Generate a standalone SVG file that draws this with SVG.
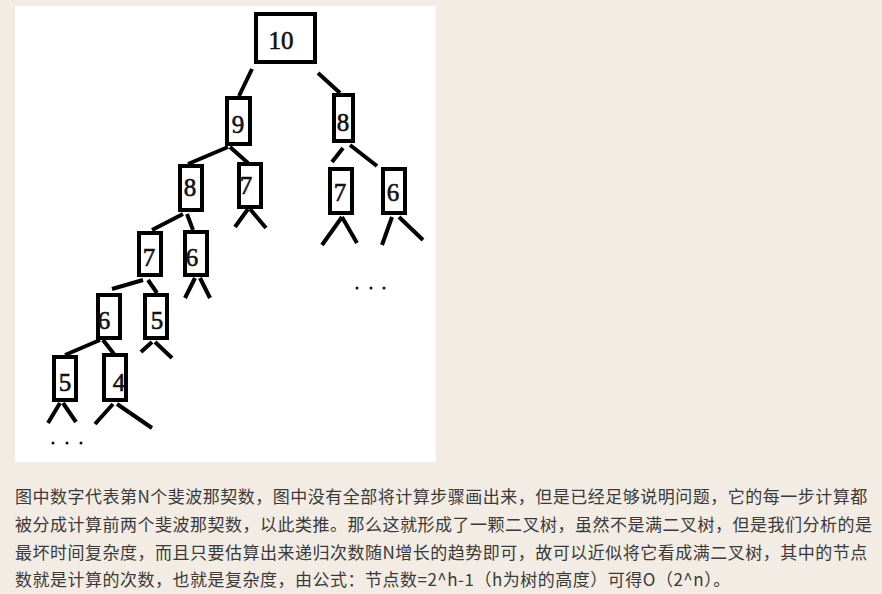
<svg xmlns="http://www.w3.org/2000/svg" width="882" height="594" viewBox="0 0 882 594">
<style>
.box{fill:#fff;stroke:#000;stroke-width:4}
.num{font-family:"Liberation Serif","DejaVu Serif",serif;font-size:25px;fill:#111;stroke:#111;stroke-width:0.6;text-anchor:middle}
.edge{stroke:#000;stroke-width:4;fill:none;stroke-linecap:butt}
.dot{fill:#111}
.para{font-family:"Noto Sans CJK SC","Noto Sans",sans-serif;font-size:17px;fill:#3a3a3a;letter-spacing:0.5px}
</style>
<rect width="882" height="594" fill="#f3ece4"/>
<rect x="15" y="6" width="421" height="456" fill="#fff"/>

<g id="connectors">
<line class="edge" x1="252" y1="69" x2="239" y2="96"/>
<line class="edge" x1="318" y1="73" x2="340" y2="93"/>
<line class="edge" x1="228" y1="147" x2="188" y2="164"/>
<line class="edge" x1="230" y1="147" x2="248" y2="163"/>
<line class="edge" x1="343" y1="148" x2="332" y2="162"/>
<line class="edge" x1="350" y1="145" x2="377" y2="166"/>
<line class="edge" x1="248" y1="209" x2="235" y2="227"/>
<line class="edge" x1="250" y1="209" x2="266" y2="228"/>
<line class="edge" x1="342" y1="217" x2="322" y2="245"/>
<line class="edge" x1="342" y1="217" x2="357" y2="243"/>
<line class="edge" x1="392" y1="217" x2="382" y2="245"/>
<line class="edge" x1="399" y1="217" x2="423" y2="240"/>
<line class="edge" x1="183" y1="214" x2="152" y2="230"/>
<line class="edge" x1="187" y1="214" x2="193" y2="230"/>
<line class="edge" x1="195" y1="278" x2="185" y2="298"/>
<line class="edge" x1="200" y1="278" x2="210" y2="298"/>
<line class="edge" x1="143" y1="280" x2="112" y2="289"/>
<line class="edge" x1="148" y1="280" x2="157" y2="293"/>
<line class="edge" x1="152" y1="342" x2="141" y2="352"/>
<line class="edge" x1="155" y1="342" x2="172" y2="358"/>
<line class="edge" x1="100" y1="340" x2="65" y2="355"/>
<line class="edge" x1="103" y1="340" x2="114" y2="354"/>
<line class="edge" x1="60" y1="403" x2="48" y2="423"/>
<line class="edge" x1="63" y1="403" x2="76" y2="422"/>
<line class="edge" x1="113" y1="404" x2="95" y2="424"/>
<line class="edge" x1="117" y1="404" x2="152" y2="428"/>
</g>

<g id="n10"><rect class="box" x="256" y="14" width="59" height="48"/><text class="num" x="281" y="49">10</text></g>
<g id="n9"><rect class="box" x="227" y="98" width="23" height="46"/><text class="num" x="238" y="133">9</text></g>
<g id="n8r"><rect class="box" x="334" y="95" width="19" height="46"/><text class="num" x="343" y="131">8</text></g>
<g id="n8l"><rect class="box" x="180" y="166" width="22" height="44"/><text class="num" x="190" y="196">8</text></g>
<g id="n7m"><rect class="box" x="239" y="164" width="22" height="43"/><text class="num" x="246" y="194">7</text></g>
<g id="n7r"><rect class="box" x="330" y="169" width="22" height="44"/><text class="num" x="340" y="201">7</text></g>
<g id="n6r"><rect class="box" x="383" y="169" width="22" height="44"/><text class="num" x="393" y="201">6</text></g>
<g id="n7l"><rect class="box" x="139" y="233" width="22" height="42"/><text class="num" x="149" y="266">7</text></g>
<g id="n6m"><rect class="box" x="185" y="232" width="22" height="43"/><text class="num" x="192" y="266">6</text></g>
<g id="n6l"><rect class="box" x="98" y="295" width="22" height="43"/><text class="num" x="104" y="329">6</text></g>
<g id="n5m"><rect class="box" x="145" y="295" width="22" height="43"/><text class="num" x="157" y="329">5</text></g>
<g id="n5l"><rect class="box" x="54" y="357" width="22" height="43"/><text class="num" x="65" y="391">5</text></g>
<g id="n4"><rect class="box" x="104" y="355" width="22" height="45"/><text class="num" x="119" y="391">4</text></g>

<g id="ellipsis-left"><circle class="dot" cx="53" cy="443" r="1.5"/><circle class="dot" cx="67" cy="443" r="1.5"/><circle class="dot" cx="81" cy="443" r="1.5"/></g>
<g id="ellipsis-right"><circle class="dot" cx="357" cy="288" r="1.5"/><circle class="dot" cx="371" cy="288" r="1.5"/><circle class="dot" cx="384" cy="288" r="1.5"/></g>

<g id="caption">
<text class="para" x="15" y="503">图中数字代表第N个斐波那契数，图中没有全部将计算步骤画出来，但是已经足够说明问题，它的每一步计算都</text>
<text class="para" x="15" y="531">被分成计算前两个斐波那契数，以此类推。那么这就形成了一颗二叉树，虽然不是满二叉树，但是我们分析的是</text>
<text class="para" x="15" y="559">最坏时间复杂度，而且只要估算出来递归次数随N增长的趋势即可，故可以近似将它看成满二叉树，其中的节点</text>
<text class="para" x="15" y="586">数就是计算的次数，也就是复杂度，由公式：节点数=2^h-1（h为树的高度）可得O（2^n）。</text>
</g>
</svg>
